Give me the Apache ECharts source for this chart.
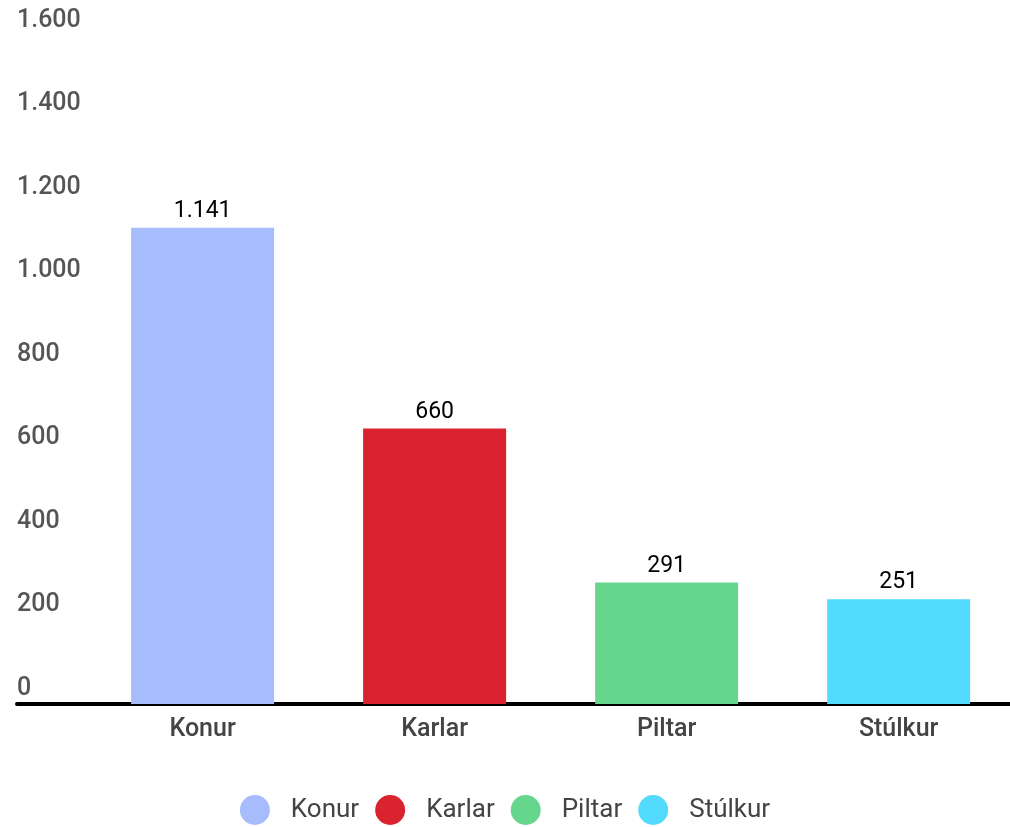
<!DOCTYPE html>
<html>
<head>
<meta charset="utf-8">
<script src="https://cdn.jsdelivr.net/npm/echarts@6/dist/echarts.min.js"></script>
<style>
html,body{margin:0;padding:0;background:#fff;}
#chart{width:1010px;height:827px;}
</style>
</head>
<body>
<div id="chart"></div>
<script>
const categories = ['Konur', 'Karlar', 'Piltar', 'Stúlkur'];
const values = [1141, 660, 291, 251];
const colors = ['#a7bcfd', '#d9232f', '#65d68c', '#52dbfd'];
const yTicks = { min: 0, max: 1600, interval: 200 };
const categoryPositions = categories.map((c, i) => i);

function fmt(v) {
  return String(v).replace(/\B(?=(\d{3})+(?!\d))/g, '.');
}

const FONT = 'Roboto';

const series = categories.map((name, i) => ({
  name: name,
  type: 'bar',
  barGap: '-100%',
  barWidth: 143,
  itemStyle: { color: colors[i] },
  label: {
    show: true,
    position: 'top',
    distance: 5,
    color: '#000',
    fontFamily: FONT,
    fontSize: 23,
    formatter: p => fmt(p.value[1])
  },
  emphasis: { disabled: true },
  data: [[categoryPositions[i], values[i]]]
}));

const chart = echarts.init(document.getElementById('chart'), null, { renderer: 'canvas' });
chart.setOption({
  animation: false,
  backgroundColor: '#fff',
  grid: { left: 17, right: 0, top: 36, bottom: 123 },
  xAxis: {
    type: 'value',
    min: -0.8,
    max: 3.48,
    splitLine: { show: false },
    axisLine: { show: true, onZero: false, lineStyle: { color: '#000', width: 4 } },
    axisTick: { show: false },
    axisLabel: {
      customValues: categoryPositions,
      margin: 13,
      color: '#444',
      fontFamily: FONT,
      fontWeight: 500,
      fontSize: 25,
      formatter: v => (categories[Math.round(v)] !== undefined ? categories[Math.round(v)] : '')
    }
  },
  yAxis: {
    type: 'value',
    min: yTicks.min, max: yTicks.max, interval: yTicks.interval,
    axisLine: { show: false },
    axisTick: { show: false },
    splitLine: { show: false },
    axisLabel: {
      inside: true,
      margin: 0,
      verticalAlign: 'bottom',
      padding: [0, 0, 3, 0],
      color: '#555',
      fontFamily: FONT,
      fontWeight: 500,
      fontSize: 25,
      formatter: v => fmt(v)
    }
  },
  legend: {
    bottom: 2,
    left: 'center',
    padding: 0,
    icon: 'circle',
    itemWidth: 30,
    itemHeight: 30,
    itemGap: 16,
    textStyle: {
      color: '#444',
      fontFamily: FONT,
      fontSize: 26,
      padding: [0, 0, 0, 16]
    },
    data: categories
  },
  series: series
});
</script>
</body>
</html>
